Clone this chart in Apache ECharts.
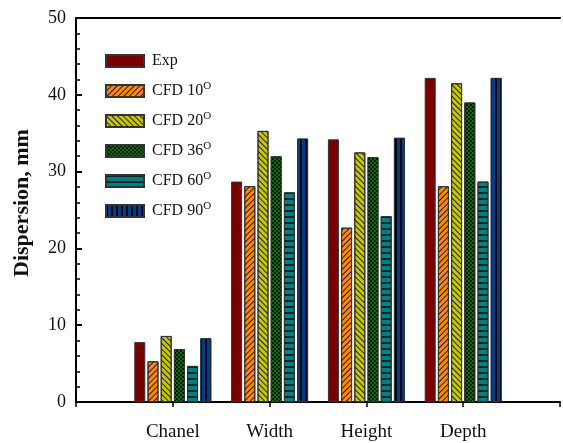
<!DOCTYPE html>
<html>
<head>
<meta charset="utf-8">
<script src="https://cdn.jsdelivr.net/npm/echarts@6/dist/echarts.min.js"></script>
<style>
html,body{margin:0;padding:0;background:#fff;}
#chart{width:563px;height:443px;}
</style>
</head>
<body>
<div id="chart"></div>
<script>
var categories = ['', 'Chanel', 'Width', 'Height', 'Depth', ''];
var seriesNames = ['Exp', 'CFD 10', 'CFD 20', 'CFD 36', 'CFD 60', 'CFD 90'];
var exp   = [7.8, 28.7, 34.2, 42.2];
var cfd10 = [5.3, 28.1, 22.7, 28.1];
var cfd20 = [8.6, 35.3, 32.5, 41.5];
var cfd36 = [6.9, 32.0, 31.9, 39.0];
var cfd60 = [4.7, 27.3, 24.2, 28.7];
var cfd90 = [8.3, 34.3, 34.4, 42.2];
var yTicks = [0, 10, 20, 30, 40, 50];

var FONT = '"Liberation Serif", "Times New Roman", serif';
var values = [exp, cfd10, cfd20, cfd36, cfd60, cfd90];
var colors = ['#7a0000', '#ff8a00', '#c8c800', '#007300', '#008080', '#003e8c'];
var decals = [
  null,
  {symbol:'rect', symbolSize:1, dashArrayX:[1,0], dashArrayY:[1,2.5], rotation:-Math.PI/4, color:'rgba(0,0,0,0.85)'},
  {symbol:'rect', symbolSize:1, dashArrayX:[1,0], dashArrayY:[1,2.5], rotation:Math.PI/4, color:'rgba(0,0,0,0.85)'},
  {symbol:'rect', symbolSize:1, dashArrayX:[[2,2],[0,2,2,0]], dashArrayY:[2,0], color:'rgba(0,0,0,0.8)'},
  {symbol:'rect', symbolSize:1, dashArrayX:[1,0], dashArrayY:[1.5,3.2], color:'rgba(0,30,30,0.9)'},
  {symbol:'rect', symbolSize:1, dashArrayX:[1.5,2.5], dashArrayY:[1,0], color:'rgba(0,0,0,0.9)'}
];

function pad(arr){ return ['-'].concat(arr).concat(['-']); }

var series = seriesNames.map(function(n, i){
  var st = {color: colors[i], borderColor:'#333', borderWidth:1};
  if (decals[i]) st.decal = decals[i];
  return {
    name: n, type: 'bar', data: pad(values[i]),
    barWidth: 11, barGap: '20%',
    itemStyle: st
  };
});

var chart = echarts.init(document.getElementById('chart'), null, {renderer:'canvas'});
chart.setOption({
  animation: false,
  backgroundColor: '#fff',
  grid: {left: 76, right: -10.5, top: 18, bottom: 41},
  legend: {
    orient: 'vertical', left: 105, top: 53, padding: 0,
    itemWidth: 38, itemHeight: 12, itemGap: 12,
    icon: 'rect',
    data: seriesNames,
    formatter: function(name){
      if (name === 'Exp') return '{a|Exp}';
      return '{a|' + name + '}{s|O}';
    },
    textStyle: {
      fontFamily: FONT, fontSize: 16, color: '#111', padding:[0,0,0,3],
      rich: {
        a: {fontFamily: FONT, fontSize: 16, color: '#111'},
        s: {fontFamily: FONT, fontSize: 11, color: '#111', padding:[0,0,9,0]}
      }
    }
  },
  xAxis: [{
    type: 'category', data: categories, boundaryGap: false,
    axisLine: {lineStyle: {color: '#000', width: 2}},
    axisTick: {show: true, inside: false, length: 5, lineStyle:{color:'#000', width:1.5}},
    axisLabel: {fontFamily: FONT, fontSize: 19, color: '#111', margin: 21},
    splitLine: {show: false}
  }, {
    type: 'category', data: categories, boundaryGap: false, position: 'top',
    axisLine: {lineStyle: {color: '#000', width: 2}},
    axisTick: {show: false}, axisLabel: {show: false}, splitLine: {show:false}
  }],
  yAxis: {
    type: 'value', min: yTicks[0], max: yTicks[yTicks.length-1], interval: 10,
    name: 'Dispersion, mm', nameLocation: 'middle', nameGap: 43,
    nameTextStyle: {fontFamily: FONT, fontSize: 22, fontWeight: 'bold', color: '#111', padding:[0,0,0,14]},
    axisLine: {show: true, lineStyle: {color: '#000', width: 2}},
    axisTick: {show: true, inside: true, length: 6, lineStyle:{color:'#000', width:2}},
    minorTick: {show: true, splitNumber: 5, length: 4, lineStyle:{color:'#000', width:1.5}},
    axisLabel: {fontFamily: FONT, fontSize: 18, color: '#111', margin: 10},
    splitLine: {show: false}
  },
  series: series
});
</script>
</body>
</html>
